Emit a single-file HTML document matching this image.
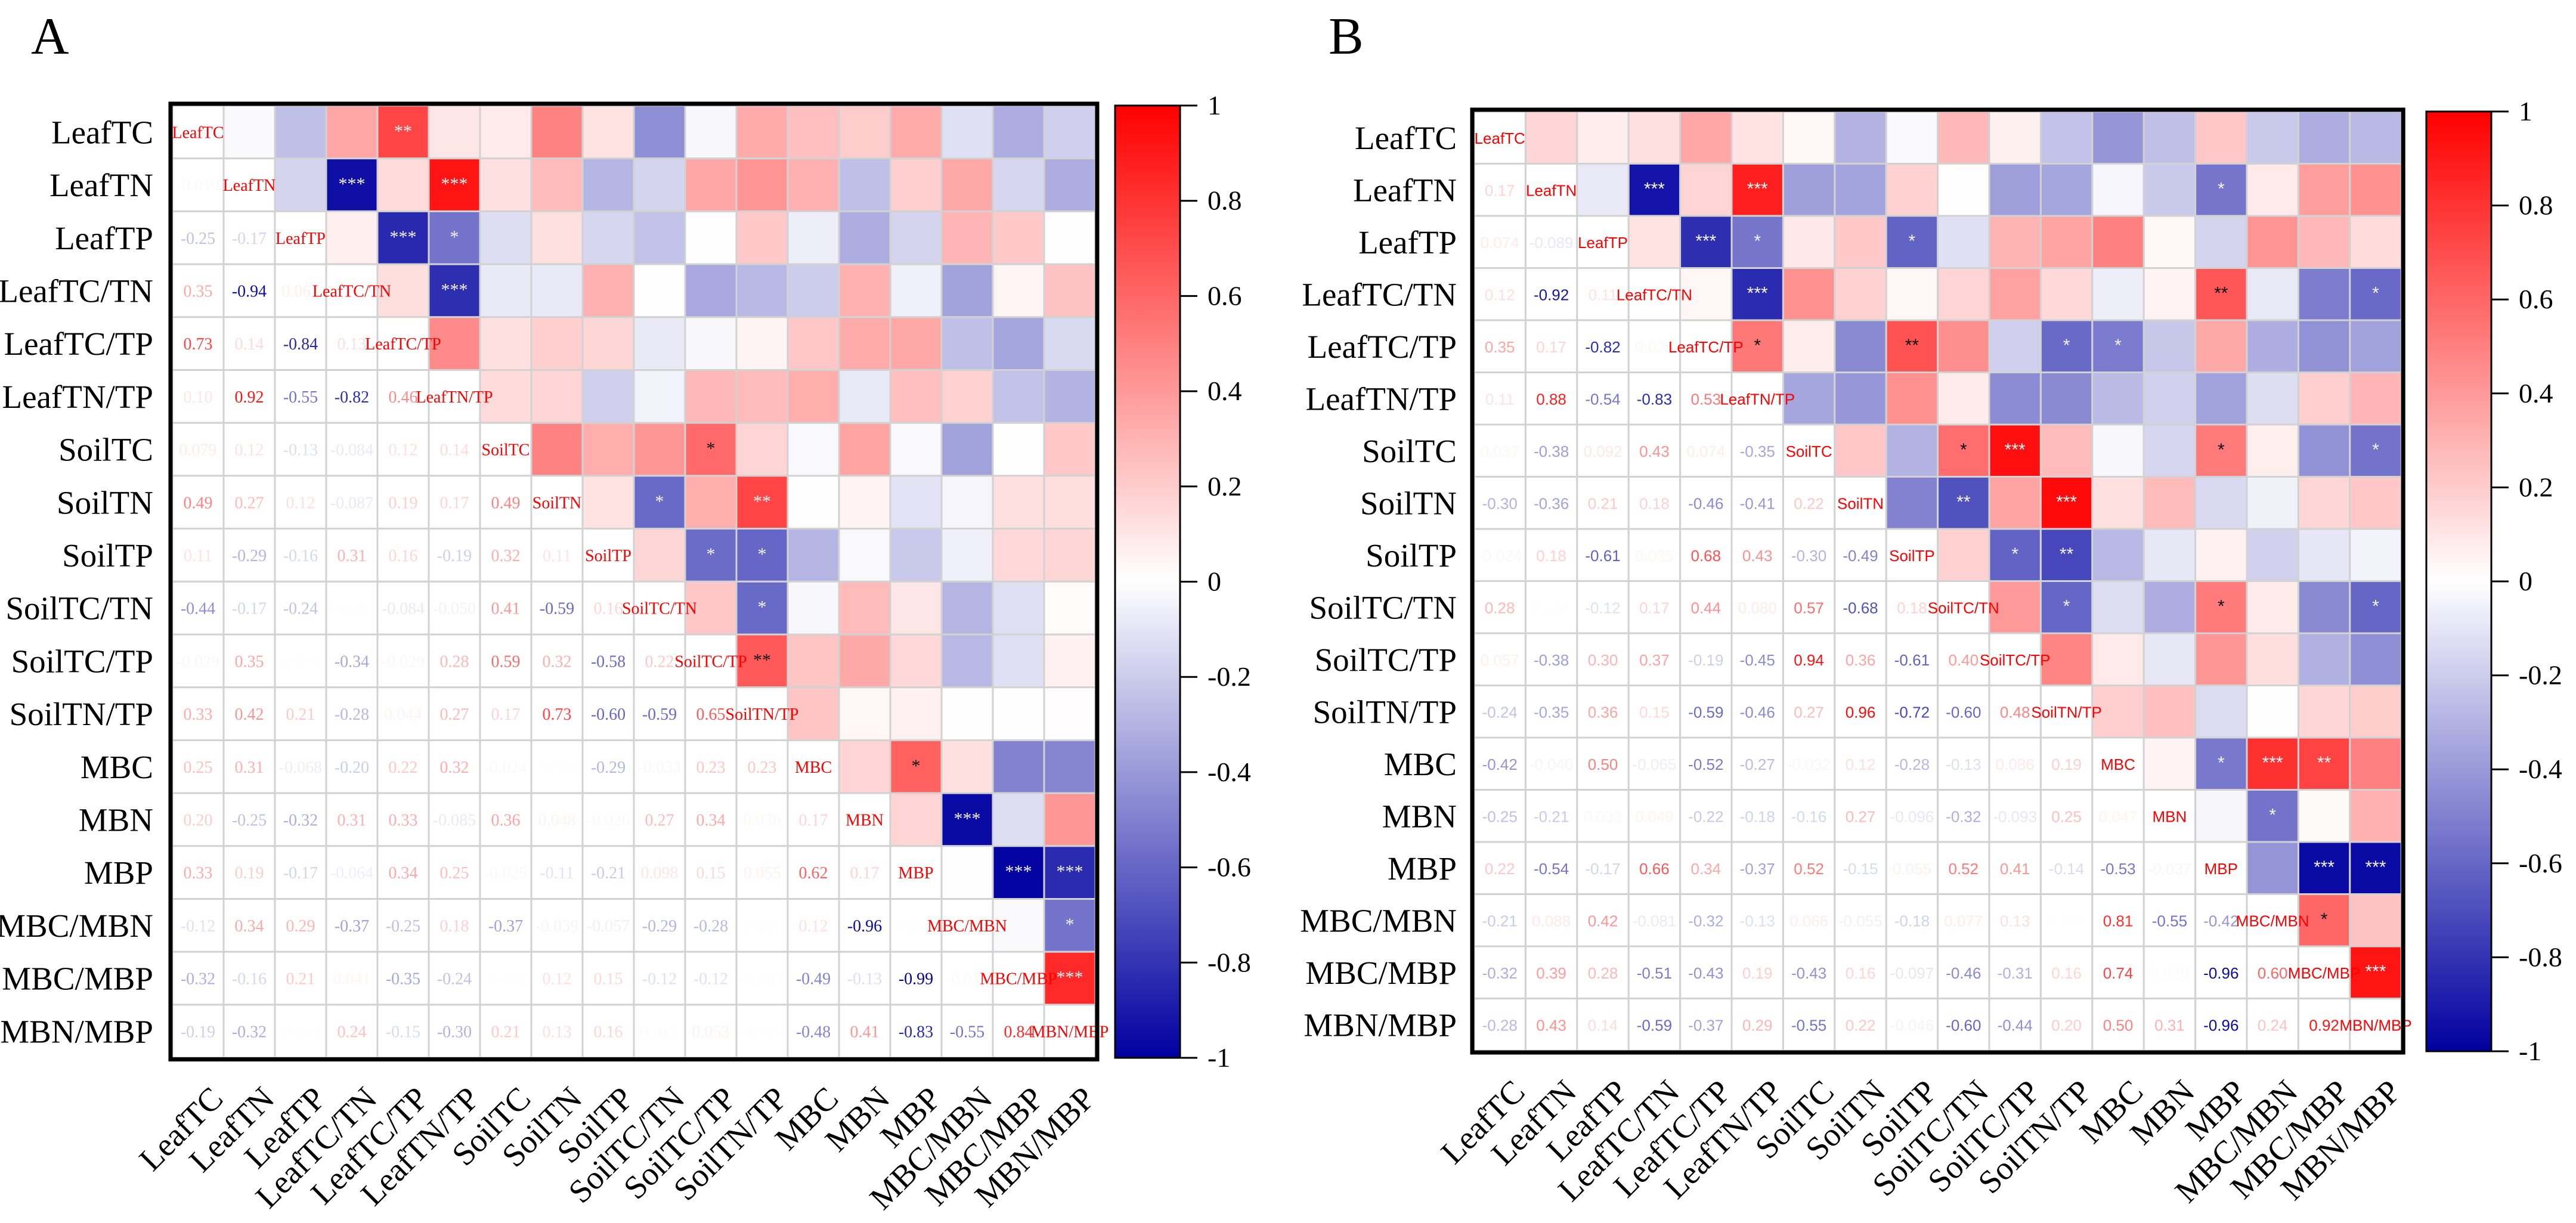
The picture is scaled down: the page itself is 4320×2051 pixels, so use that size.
<!DOCTYPE html>
<html><head><meta charset="utf-8">
<style>
html,body{margin:0;padding:0;background:#fff;}
svg{display:block;}
</style></head>
<body>
<svg id="fig" width="4320" height="2051" viewBox="0 0 4320 2051" xmlns="http://www.w3.org/2000/svg"></svg>
<script>
const varNames = ["LeafTC","LeafTN","LeafTP","LeafTC/TN","LeafTC/TP","LeafTN/TP","SoilTC","SoilTN","SoilTP","SoilTC/TN","SoilTC/TP","SoilTN/TP","MBC","MBN","MBP","MBC/MBN","MBC/MBP","MBN/MBP"];
const lowerA = [
 [],
 [-0.019],
 [-0.25,-0.17],
 [0.35,-0.94,0.063],
 [0.73,0.14,-0.84,0.13],
 [0.10,0.92,-0.55,-0.82,0.46],
 [0.079,0.12,-0.13,-0.084,0.12,0.14],
 [0.49,0.27,0.12,-0.087,0.19,0.17,0.49],
 [0.11,-0.29,-0.16,0.31,0.16,-0.19,0.32,0.11],
 [-0.44,-0.17,-0.24,0.004,-0.084,-0.050,0.41,-0.59,0.16],
 [-0.029,0.35,0.004,-0.34,-0.029,0.28,0.59,0.32,-0.58,0.22],
 [0.33,0.42,0.21,-0.28,0.044,0.27,0.17,0.73,-0.60,-0.59,0.65],
 [0.25,0.31,-0.068,-0.20,0.22,0.32,-0.024,0.004,-0.29,-0.033,0.23,0.23],
 [0.20,-0.25,-0.32,0.31,0.33,-0.085,0.36,0.048,-0.026,0.27,0.34,0.036,0.17],
 [0.33,0.19,-0.17,-0.064,0.34,0.25,-0.025,-0.11,-0.21,0.098,0.15,0.055,0.62,0.17],
 [-0.12,0.34,0.29,-0.37,-0.25,0.18,-0.37,-0.039,-0.057,-0.29,-0.28,0.004,0.12,-0.96,0.004],
 [-0.32,-0.16,0.21,0.041,-0.35,-0.24,0.004,0.12,0.15,-0.12,-0.12,-0.004,-0.49,-0.13,-0.99,-0.018],
 [-0.19,-0.32,0.004,0.24,-0.15,-0.30,0.21,0.13,0.16,0.017,0.053,0.006,-0.48,0.41,-0.83,-0.55,0.84]
];
const lowerB = [
 [],
 [0.17],
 [0.074,-0.089],
 [0.12,-0.92,0.11],
 [0.35,0.17,-0.82,0.035],
 [0.11,0.88,-0.54,-0.83,0.53],
 [0.037,-0.38,0.092,0.43,0.074,-0.35],
 [-0.30,-0.36,0.21,0.18,-0.46,-0.41,0.22],
 [-0.024,0.18,-0.61,0.035,0.68,0.43,-0.30,-0.49],
 [0.28,0.004,-0.12,0.17,0.44,0.080,0.57,-0.68,0.18],
 [0.057,-0.38,0.30,0.37,-0.19,-0.45,0.94,0.36,-0.61,0.40],
 [-0.24,-0.35,0.36,0.15,-0.59,-0.46,0.27,0.96,-0.72,-0.60,0.48],
 [-0.42,-0.040,0.50,-0.065,-0.52,-0.27,-0.032,0.12,-0.28,-0.13,0.086,0.19],
 [-0.25,-0.21,0.033,0.049,-0.22,-0.18,-0.16,0.27,-0.096,-0.32,-0.093,0.25,0.047],
 [0.22,-0.54,-0.17,0.66,0.34,-0.37,0.52,-0.15,0.055,0.52,0.41,-0.14,-0.53,-0.037],
 [-0.21,0.088,0.42,-0.081,-0.32,-0.13,0.066,-0.055,-0.18,0.077,0.13,0.004,0.81,-0.55,-0.42],
 [-0.32,0.39,0.28,-0.51,-0.43,0.19,-0.43,0.16,-0.097,-0.46,-0.31,0.16,0.74,0.02,-0.96,0.60],
 [-0.28,0.43,0.14,-0.59,-0.37,0.29,-0.55,0.22,-0.046,-0.60,-0.44,0.20,0.50,0.31,-0.96,0.24,0.92]
];
const starsA = [[0,4,"**"],[1,3,"***"],[1,5,"***"],[2,4,"***"],[2,5,"*"],[3,5,"***"],[6,10,"*"],[7,9,"*"],[7,11,"**"],[8,10,"*"],[8,11,"*"],[9,11,"*"],[10,11,"**"],[12,14,"*"],[13,15,"***"],[14,16,"***"],[14,17,"***"],[15,17,"*"],[16,17,"***"]];
const starsB = [[1,3,"***"],[1,5,"***"],[1,14,"*"],[2,4,"***"],[2,5,"*"],[2,8,"*"],[3,5,"***"],[3,14,"**"],[3,17,"*"],[4,5,"*"],[4,8,"**"],[4,11,"*"],[4,12,"*"],[6,9,"*"],[6,10,"***"],[6,14,"*"],[6,17,"*"],[7,9,"**"],[7,11,"***"],[8,10,"*"],[8,11,"**"],[9,11,"*"],[9,14,"*"],[9,17,"*"],[12,14,"*"],[12,15,"***"],[12,16,"**"],[13,15,"*"],[14,16,"***"],[14,17,"***"],[15,16,"*"],[16,17,"***"]];
const cbTicks = [1,0.8,0.6,0.4,0.2,0,-0.2,-0.4,-0.6,-0.8,-1];
const cbTickLabels = ["1","0.8","0.6","0.4","0.2","0","-0.2","-0.4","-0.6","-0.8","-1"];

const NS = "http://www.w3.org/2000/svg";
const svg = document.getElementById("fig");
function mk(tag, attrs, parent){ const e=document.createElementNS(NS,tag); for(const k in attrs) e.setAttribute(k,attrs[k]); (parent||svg).appendChild(e); return e; }
function cmap(r){
  r=Math.max(-1,Math.min(1,r));
  let R,G,B;
  if(r>=0){R=255;G=B=Math.round(255*(1-r));}
  else{const t=-r;R=G=Math.round(255*(1-t));B=Math.round(255-95*t);}
  return "rgb("+R+","+G+","+B+")";
}
function fmt(v){ const a=Math.abs(v); let s = a<0.1 ? a.toFixed(3) : a.toFixed(2); return (v<0?"-":"")+s; }
const SERIF='"Liberation Serif", serif', SANS='"Liberation Sans", sans-serif';

function panel(cfg){
  const n=varNames.length;
  const M=[]; for(let i=0;i<n;i++){M.push(new Array(n).fill(1));}
  for(let i=0;i<n;i++) for(let j=0;j<i;j++){ M[i][j]=cfg.lower[i][j]; M[j][i]=cfg.lower[i][j]; }
  const g=mk("g",{});
  
  
  const x=j=>cfg.gx+j*cfg.cw, y=i=>cfg.gy+i*cfg.ch;
  for(let i=0;i<n;i++) for(let j=0;j<n;j++){
    const up=j>i;
    const c=mk("rect",{x:x(j),y:y(i),width:cfg.cw,height:cfg.ch,fill:up?cmap(M[i][j]):"#fff",stroke:"#d2d2d2","stroke-width":3},g);
    
    
  }
  for(let i=0;i<n;i++) for(let j=0;j<=i;j++){
    const t=mk("text",{x:x(j)+cfg.cw/2,y:y(i)+cfg.ch/2+10,"text-anchor":"middle","font-family":cfg.cellFont,"font-size":cfg.cellSize,fill:i===j?"#ff0000":cmap(M[i][j])},g);
    t.textContent = i===j ? varNames[i] : fmt(M[i][j]);
    
    
  }
  cfg.stars.forEach(s=>{
    const r=M[s[0]][s[1]];
    const t=mk("text",{x:x(s[1])+cfg.cw/2,y:y(s[0])+cfg.ch/2+8,"text-anchor":"middle","font-family":cfg.cellFont,"font-size":30,fill:(r<0||r>0.7)?"#f2f2f2":"#111"},g);
    t.textContent=s[2];
    
    
  });
  const W=cfg.cw*n, H=cfg.ch*n;
  const b=mk("rect",{x:cfg.gx-3,y:cfg.gy-3,width:W+6,height:H+6,fill:"none",stroke:"#000","stroke-width":7});
  
  
  for(let i=0;i<n;i++){
    const t=mk("text",{x:cfg.rowX,y:y(i)+cfg.ch/2+19,"text-anchor":"end","font-family":SERIF,"font-size":55,fill:"#000"});
    t.textContent=varNames[i];
    
    
    const ax=x(i)+cfg.cw/2+45, ay=cfg.gy+H+72;
    const u=mk("text",{x:ax,y:ay,"text-anchor":"end","font-family":SERIF,"font-size":55,fill:"#000",transform:"rotate(-45 "+ax+" "+ay+")"});
    u.textContent=varNames[i];
    
    
  }
  // colorbar
  const gid="grad"+cfg.id;
  const defs=mk("defs",{});
  const lg=mk("linearGradient",{id:gid,x1:0,y1:0,x2:0,y2:1},defs);
  for(let k=0;k<=20;k++){ const v=1-k/10; mk("stop",{offset:(k/20),"stop-color":cmap(v)},lg); }
  const cbH=cfg.cbBot-cfg.cbTop;
  const cb=mk("rect",{x:cfg.cbX,y:cfg.cbTop,width:cfg.cbW,height:cbH,fill:"url(#"+gid+")",stroke:"#000","stroke-width":3});
  
  
  const cy=v=>cfg.cbTop+(1-v)/2*cbH;
  cbTicks.forEach((v,k)=>{
    const l=mk("line",{x1:cfg.cbX+cfg.cbW,x2:cfg.cbX+cfg.cbW+29,y1:cy(v),y2:cy(v),stroke:"#000","stroke-width":3});
    
    
    const t=mk("text",{x:cfg.cbX+cfg.cbW+46,y:cy(v)+15,"font-family":SERIF,"font-size":46,fill:"#000"});
    t.textContent=cbTickLabels[k];
    
    
  });
  const tt=mk("text",{x:cfg.titleX,y:90,"font-family":SERIF,"font-size":88,fill:"#000"});
  tt.textContent=cfg.title;
  
  
}
panel({id:"a",title:"A",titleX:52,lower:lowerA,stars:starsA,gx:289,gy:177,cw:86,ch:88.7,cellFont:SERIF,cellSize:28,rowX:257,cbX:1870,cbW:109,cbTop:177,cbBot:1774});
panel({id:"b",title:"B",titleX:2228,lower:lowerB,stars:starsB,gx:2472,gy:187,cw:86.4,ch:87.5,cellFont:SANS,cellSize:26,rowX:2443,cbX:4069,cbW:109,cbTop:187,cbBot:1763});
</script>
</body></html>
